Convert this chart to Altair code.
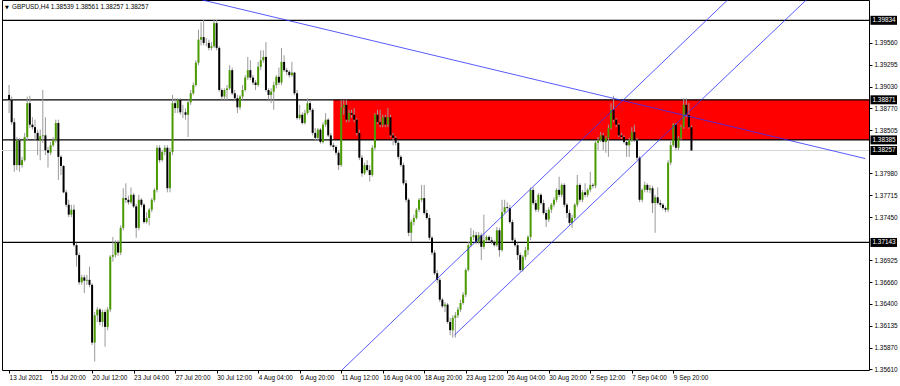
import altair as alt
import pandas as pd

# ---------------- data (GBPUSD H4) ----------------
first_open = 1.3893
closes = [
1.3887,1.3860,1.3808,1.3838,1.3808,1.3814,1.3842,1.3883,1.3857,1.3854,
1.3847,1.3838,1.3843,1.3844,1.3826,1.3823,1.3832,1.3838,1.3859,1.3818,
1.3807,1.3775,1.3760,1.3748,1.3754,1.3711,1.3699,1.3666,1.3672,1.3668,
1.3669,1.3663,1.3593,1.3626,1.3633,1.3618,1.3630,1.3612,1.3633,1.3697,
1.3699,1.3714,1.3702,1.3732,1.3768,1.3766,1.3763,1.3772,1.3758,1.3732,
1.3766,1.3760,1.3739,1.3744,1.3754,1.3766,1.3778,1.3829,1.3814,1.3824,
1.3829,1.3780,1.3824,1.3883,1.3877,1.3887,1.3872,1.3872,1.3869,1.3884,
1.3895,1.3905,1.3932,1.3960,1.3963,1.3956,1.3956,1.3950,1.3952,1.3980,
1.3950,1.3899,1.3891,1.3899,1.3901,1.3923,1.3895,1.3889,1.3878,1.3891,
1.3899,1.3914,1.3923,1.3914,1.3908,1.3905,1.3927,1.3935,1.3939,1.3899,
1.3893,1.3897,1.3905,1.3915,1.3908,1.3933,1.3923,1.3921,1.3917,1.3920,
1.3895,1.3865,1.3869,1.3859,1.3871,1.3883,1.3875,1.3847,1.3841,1.3851,
1.3836,1.3857,1.3863,1.3844,1.3832,1.3830,1.3823,1.3808,1.3878,1.3881,
1.3863,1.3871,1.3869,1.3863,1.3847,1.3817,1.3798,1.3808,1.3802,1.3796,
1.3829,1.3869,1.3860,1.3857,1.3866,1.3857,1.3866,1.3844,1.3841,1.3835,
1.3818,1.3808,1.3786,1.3766,1.3726,1.3739,1.3744,1.3754,1.3766,1.3768,
1.3750,1.3744,1.3720,1.3702,1.3677,1.3669,1.3645,1.3637,1.3639,1.3618,
1.3608,1.3623,1.3626,1.3633,1.3641,1.3651,1.3681,1.3711,1.3721,1.3723,
1.3715,1.3723,1.3709,1.3717,1.3721,1.3717,1.3715,1.3711,1.3729,1.3705,
1.3751,1.3757,1.3756,1.3739,1.3717,1.3711,1.3699,1.3681,1.3697,1.3705,
1.3721,1.3778,1.3762,1.3754,1.3772,1.3762,1.3750,1.3742,1.3754,1.3760,
1.3766,1.3778,1.3772,1.3784,1.3760,1.3750,1.3738,1.3744,1.3760,1.3784,
1.3766,1.3775,1.3772,1.3778,1.3784,1.3783,1.3835,1.3838,1.3844,1.3836,
1.3841,1.3853,1.3875,1.3863,1.3857,1.3844,1.3842,1.3836,1.3832,1.3838,
1.3848,1.3838,1.3817,1.3766,1.3778,1.3784,1.3778,1.3780,1.3762,1.3769,
1.3762,1.3760,1.3756,1.3754,1.3811,1.3832,1.3857,1.3829,1.3841,1.3854,
1.3881,1.3869,1.38539,1.38257]
highs = [
1.3905,1.3891,1.3865,1.3842,1.3841,1.3818,1.3847,1.3891,1.3892,1.3866,
1.3863,1.3851,1.3851,1.3899,1.3866,1.3830,1.3836,1.3842,1.3863,1.3863,
1.3820,1.3808,1.3778,1.3766,1.3760,1.3760,1.3714,1.3702,1.3675,1.3675,
1.3675,1.3685,1.3665,1.3630,1.3636,1.3635,1.3633,1.3633,1.3636,1.3699,
1.3721,1.3717,1.3717,1.3735,1.3780,1.3786,1.3771,1.3781,1.3774,1.3761,
1.3772,1.3768,1.3762,1.3751,1.3756,1.3768,1.3780,1.3832,1.3832,1.3826,
1.3832,1.3832,1.3829,1.3893,1.3889,1.3889,1.3889,1.3881,1.3877,1.3887,
1.3899,1.3908,1.3935,1.3972,1.3981,1.3984,1.3962,1.3960,1.3957,1.3984,
1.3984,1.3952,1.3901,1.3901,1.3905,1.3929,1.3926,1.3899,1.3893,1.3893,
1.3905,1.3917,1.3939,1.3935,1.3917,1.3911,1.3933,1.3947,1.3947,1.3957,
1.3901,1.3901,1.3909,1.3917,1.3926,1.3950,1.3941,1.3926,1.3923,1.3933,
1.3921,1.3899,1.3881,1.3872,1.3875,1.3889,1.3887,1.3877,1.3853,1.3853,
1.3853,1.3860,1.3871,1.3865,1.3847,1.3835,1.3832,1.3826,1.3887,1.3887,
1.3887,1.3875,1.3875,1.3877,1.3865,1.3851,1.3820,1.3811,1.3814,1.3808,
1.3832,1.3871,1.3875,1.3875,1.3869,1.3869,1.3877,1.3869,1.3847,1.3843,
1.3838,1.3820,1.3811,1.3790,1.3768,1.3742,1.3748,1.3756,1.3768,1.3784,
1.3784,1.3754,1.3748,1.3722,1.3705,1.3681,1.3671,1.3647,1.3642,1.3641,
1.3623,1.3626,1.3630,1.3636,1.3645,1.3654,1.3683,1.3715,1.3732,1.3729,
1.3727,1.3727,1.3726,1.3748,1.3723,1.3723,1.3721,1.3717,1.3733,1.3732,
1.3766,1.3766,1.3763,1.3760,1.3742,1.3720,1.3714,1.3702,1.3699,1.3709,
1.3723,1.3781,1.3781,1.3766,1.3774,1.3774,1.3766,1.3754,1.3757,1.3762,
1.3769,1.3780,1.3794,1.3786,1.3786,1.3762,1.3754,1.3748,1.3762,1.3796,
1.3786,1.3778,1.3786,1.3780,1.3800,1.3786,1.3838,1.3842,1.3848,1.3847,
1.3843,1.3857,1.3883,1.3892,1.3865,1.3859,1.3847,1.3844,1.3838,1.3841,
1.3854,1.3857,1.3841,1.3819,1.3780,1.3788,1.3786,1.3784,1.3783,1.3772,
1.3781,1.3766,1.3762,1.3758,1.3814,1.3838,1.3859,1.3859,1.3843,1.3857,
1.3889,1.3889,1.3883,1.38561]
lows = [
1.3871,1.3857,1.3800,1.3802,1.3800,1.3805,1.3812,1.3838,1.3853,1.3851,
1.3838,1.3820,1.3814,1.3835,1.3820,1.3805,1.3820,1.3830,1.3835,1.3790,
1.3796,1.3774,1.3757,1.3745,1.3745,1.3709,1.3685,1.3663,1.3663,1.3653,
1.3663,1.3660,1.3590,1.3570,1.3618,1.3614,1.3612,1.3588,1.3608,1.3630,
1.3691,1.3696,1.3698,1.3699,1.3729,1.3762,1.3760,1.3761,1.3756,1.3720,
1.3729,1.3757,1.3737,1.3737,1.3735,1.3751,1.3763,1.3775,1.3811,1.3812,
1.3820,1.3775,1.3775,1.3820,1.3871,1.3871,1.3869,1.3865,1.3863,1.3842,
1.3881,1.3893,1.3903,1.3929,1.3953,1.3953,1.3952,1.3947,1.3947,1.3950,
1.3947,1.3897,1.3887,1.3887,1.3887,1.3899,1.3893,1.3887,1.3871,1.3875,
1.3887,1.3897,1.3911,1.3911,1.3905,1.3899,1.3903,1.3923,1.3932,1.3897,
1.3887,1.3883,1.3875,1.3901,1.3905,1.3905,1.3921,1.3917,1.3914,1.3915,
1.3893,1.3863,1.3863,1.3857,1.3857,1.3869,1.3872,1.3844,1.3838,1.3838,
1.3834,1.3834,1.3854,1.3842,1.3830,1.3826,1.3820,1.3802,1.3806,1.3869,
1.3860,1.3860,1.3865,1.3860,1.3844,1.3814,1.3794,1.3796,1.3800,1.3788,
1.3794,1.3826,1.3858,1.3854,1.3854,1.3854,1.3854,1.3842,1.3832,1.3832,
1.3815,1.3806,1.3784,1.3763,1.3722,1.3715,1.3735,1.3742,1.3751,1.3763,
1.3748,1.3742,1.3717,1.3699,1.3675,1.3665,1.3642,1.3635,1.3630,1.3616,
1.3602,1.3599,1.3599,1.3623,1.3630,1.3639,1.3648,1.3679,1.3709,1.3717,
1.3712,1.3712,1.3693,1.3706,1.3715,1.3715,1.3712,1.3709,1.3709,1.3697,
1.3703,1.3749,1.3754,1.3737,1.3715,1.3709,1.3693,1.3679,1.3679,1.3693,
1.3699,1.3717,1.3760,1.3751,1.3751,1.3760,1.3748,1.3733,1.3739,1.3750,
1.3757,1.3763,1.3769,1.3769,1.3757,1.3744,1.3735,1.3732,1.3742,1.3757,
1.3763,1.3763,1.3769,1.3769,1.3775,1.3780,1.3780,1.3826,1.3836,1.3826,
1.3823,1.3818,1.3851,1.3860,1.3854,1.3842,1.3840,1.3834,1.3818,1.3818,
1.3836,1.3836,1.3814,1.3763,1.3763,1.3775,1.3775,1.3774,1.3750,1.3726,
1.3760,1.3757,1.3754,1.3751,1.3751,1.3808,1.3830,1.3826,1.3826,1.3838,
1.3852,1.3866,1.3852,1.38257]

x_label_pos = [0, 16, 32, 48, 64, 80, 96, 112, 128, 144, 160, 176, 192, 208, 224, 240, 256]
x_labels = ["13 Jul 2021", "15 Jul 20:00", "20 Jul 12:00", "23 Jul 04:00", "27 Jul 20:00",
            "30 Jul 12:00", "4 Aug 04:00", "6 Aug 20:00", "11 Aug 12:00", "16 Aug 04:00",
            "18 Aug 20:00", "23 Aug 12:00", "26 Aug 04:00", "30 Aug 20:00", "2 Sep 12:00",
            "7 Sep 04:00", "9 Sep 20:00"]
price_ticks = [1.39560, 1.39295, 1.39030, 1.38770, 1.38505, 1.37980, 1.37715, 1.37450,
               1.36925, 1.36660, 1.36400, 1.36135, 1.35870, 1.35610]
level_lines = [1.39834, 1.38871, 1.38385, 1.37143]
bid_price = 1.38257
box_prices = [1.39834, 1.38871, 1.38385, 1.38257, 1.37143]
zone_start, zone_end, zone_low, zone_high = 125, 335, 1.38385, 1.38871
# drawn trend lines: (name, bar index, price)
trend_pts = [("down", 74.0, 1.40084), ("down", 330.0, 1.38159),
             ("chan_up", 128.3, 1.35598), ("chan_up", 276.9, 1.40080),
             ("chan_lo", 171.7, 1.36022), ("chan_lo", 309.0, 1.40133)]
title_text = "GBPUSD,H4  1.38539 1.38561 1.38257 1.38257"

# ---------------- frames ----------------
opens = [first_open] + closes[:-1]
n = len(closes)
candles = pd.DataFrame({
    "i": list(range(n)), "o": opens, "h": highs, "l": lows, "c": closes,
    "dir": ["up" if c >= o else "down" for o, c in zip(opens, closes)],
})
levels = pd.DataFrame({"p": level_lines})
bid = pd.DataFrame({"p": [bid_price]})
boxes = pd.DataFrame({"p": box_prices, "t": [f"{v:.5f}" for v in box_prices]})
zone = pd.DataFrame({"x1": [zone_start], "x2": [zone_end], "y1": [zone_low], "y2": [zone_high]})
trend = pd.DataFrame(trend_pts, columns=["name", "i", "p"])

FONT = "Liberation Sans"
FS = 6.4
xs = alt.Scale(domain=[-0.8, 329.5], nice=False, zero=False)
ys = alt.Scale(domain=[1.35598, 1.40080], nice=False, zero=False)

label_array = "[" + ",".join(f"'{t}'" for t in x_labels) + "]"

XAX = alt.Axis(
    orient="bottom", values=x_label_pos, labelExpr=f"{label_array}[datum.value/16]",
    labelAlign="left", labelFlush=False, labelOverlap=False, labelBound=False,
    labelFont=FONT, labelFontSize=FS, labelColor="#000000", labelPadding=1,
    tickSize=3, tickColor="#000000", domain=False, grid=False, title=None)
YAX = alt.Axis(
    orient="right", values=price_ticks, format=".5f", labelAlign="left",
    labelFlush=False, labelOverlap=False, labelFont=FONT, labelFontSize=FS,
    labelColor="#000000", labelPadding=2, tickSize=3, tickColor="#000000",
    domain=False, grid=False, title=None)


def X(field):
    return alt.X(field, scale=xs, axis=XAX)


def Y(field):
    return alt.Y(field, scale=ys, axis=YAX)


zone_l = alt.Chart(zone).mark_rect(color="#ff0000", clip=True).encode(
    x=X("x1:Q"), x2="x2:Q", y=Y("y1:Q"), y2="y2:Q")

bid_l = alt.Chart(bid).mark_rule(color="#d4d4d4", strokeWidth=1).encode(y=Y("p:Q"))

level_l = alt.Chart(levels).mark_rule(color="#000000", strokeWidth=1.2).encode(y=Y("p:Q"))

wick_l = alt.Chart(candles).mark_rule(color="#9a9a9a", strokeWidth=1).encode(
    x=X("i:Q"), y=Y("l:Q"), y2="h:Q")

body_l = alt.Chart(candles).mark_bar(size=2, strokeWidth=0).encode(
    x=X("i:Q"), y=Y("o:Q"), y2="c:Q",
    color=alt.Color("dir:N", scale=alt.Scale(domain=["up", "down"],
                                              range=["#4a9a00", "#000000"]), legend=None))

trend_l = alt.Chart(trend).mark_line(color="#2f2fff", strokeWidth=0.8, clip=True).encode(
    x=X("i:Q"), y=Y("p:Q"), detail="name:N")

box_l = alt.Chart(boxes).mark_rule(color="#000000", strokeWidth=9, strokeCap="butt").encode(
    x=alt.value(868.5), x2=alt.value(895), y=Y("p:Q"))
box_t = alt.Chart(boxes).mark_text(color="#ffffff", font=FONT, fontSize=FS, align="left",
                                   baseline="middle").encode(
    x=alt.value(870.5), y=Y("p:Q"), text="t:N")

title_tri = alt.Chart(pd.DataFrame({"t": ["\u25bc"]})).mark_text(
    font="DejaVu Sans", fontSize=5, align="left", baseline="middle", color="#000000").encode(
    x=alt.value(3), y=alt.value(7), text="t:N")
title_l = alt.Chart(pd.DataFrame({"t": [title_text]})).mark_text(
    font=FONT, fontSize=FS, align="left", baseline="middle", color="#000000").encode(
    x=alt.value(10), y=alt.value(7), text="t:N")

chart = alt.layer(zone_l, bid_l, level_l, wick_l, body_l, trend_l, box_l, box_t,
                  title_tri, title_l).properties(
    width=867, height=370,
    padding={"left": 2, "top": 0, "right": 31, "bottom": 16},
    autosize=alt.AutoSizeParams(type="none"),
    background="#ffffff",
).configure_view(stroke="#000000", strokeWidth=1)

chart.save("out.html", embed_options={"renderer": "svg", "actions": False})
